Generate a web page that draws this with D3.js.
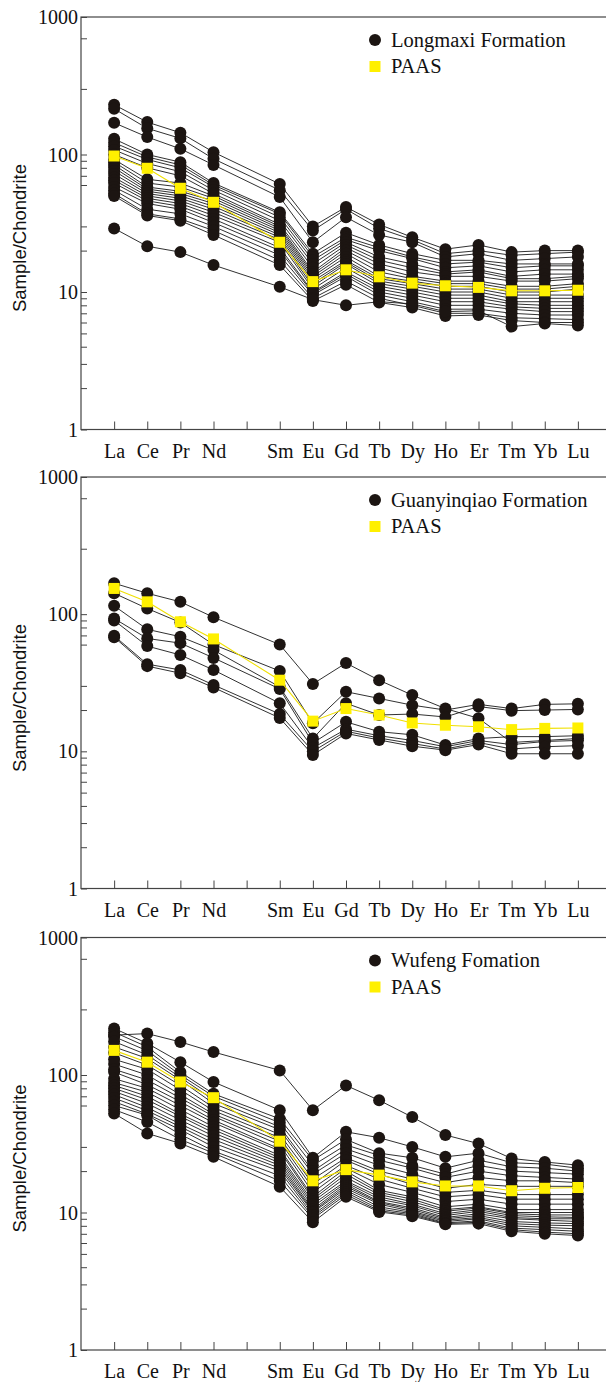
<!DOCTYPE html>
<html>
<head>
<meta charset="utf-8">
<script src="https://cdn.jsdelivr.net/npm/d3@7"></script>
<style>
  html, body { margin: 0; padding: 0; background: #fff; }
  svg { display: block; }
</style>
</head>
<body>
<svg id="chart" width="606" height="1382"></svg>
<script>
// ---------- DATA ----------
const categories = ["La","Ce","Pr","Nd","Pm","Sm","Eu","Gd","Tb","Dy","Ho","Er","Tm","Yb","Lu"];
const elements   = ["La","Ce","Pr","Nd","Sm","Eu","Gd","Tb","Dy","Ho","Er","Tm","Yb","Lu"];
const tickLabels = ["La","Ce","Pr","Nd","","Sm","Eu","Gd","Tb","Dy","Ho","Er","Tm","Yb","Lu"];
const yMajorTicks = [1, 10, 100, 1000];
const yMinorTicks = [2,3,4,5,6,7,8,9, 20,30,60,70,80,90, 300,700];

const legendNames = ["Longmaxi Formation", "Guanyinqiao Formation", "Wufeng Fomation"];
const paasName = "PAAS";

const longmaxiPAAS = [97.5, 79.4, 56.8, 44.9, 23, 11.9, 14.5, 12.9, 11.6, 11.1, 10.8, 10.2, 10.2, 10.3];
const longmaxiSamples = [
  [230, 172, 144, 104, 61, 30, 41.5, 31, 25, 20.5, 22, 19.5, 20, 20],
  [215, 155, 131, 93, 55, 28, 40, 29, 24, 19, 20, 18.5, 19, 19.5],
  [170, 134, 110, 84, 49, 23, 35, 26, 23, 18, 19, 17, 17.5, 18],
  [130, 100, 88, 62, 38, 19, 27, 22, 19, 17, 17, 16, 16, 16],
  [122, 96, 84, 60, 37, 18, 25, 21, 18, 16, 16.5, 15, 15.5, 15.5],
  [115, 92, 80, 58, 35, 17, 24, 20, 17.5, 15, 15.5, 14, 14.5, 14.5],
  [108, 86, 75, 55, 33, 16, 23, 18, 16, 14, 14.5, 13, 13.5, 13.5],
  [100, 80, 70, 52, 31, 15, 22, 17, 15, 13.5, 14, 12.5, 12.5, 13],
  [92, 66, 62, 50, 30, 14, 21, 16, 14, 13, 13, 12, 12, 12.5],
  [88, 62, 58, 48, 29, 13.5, 20, 15, 13, 12, 12, 11, 11, 11.5],
  [84, 58, 54, 46, 28, 13, 19, 14, 12.5, 11.5, 11.5, 10.5, 10.5, 11],
  [80, 56, 52, 44, 27, 12.5, 18, 13, 12, 11, 11, 10, 10, 10.5],
  [76, 54, 50, 42, 26, 12, 17, 12.5, 11.5, 10.5, 10.5, 9.5, 9.5, 9.5],
  [72, 52, 48, 40, 25, 11.5, 16.5, 12, 11, 10, 10, 9, 9, 9],
  [68, 50, 46, 38, 24, 11, 16, 11.5, 10.5, 9.5, 9.5, 8.5, 8.5, 8.5],
  [65, 48, 44, 36, 23, 10.5, 15, 11, 10, 9, 9, 8.2, 8, 8],
  [62, 46, 42, 34, 21, 10, 14, 10.5, 9.5, 8.5, 8.5, 7.8, 7.6, 7.6],
  [58, 44, 40, 32, 20, 9.8, 13.5, 10, 9, 8, 8, 7.5, 7.2, 7.2],
  [55, 40, 37, 30, 18.5, 9.5, 13, 9.5, 8.5, 7.5, 7.5, 7, 6.8, 6.8],
  [52, 37, 34, 28, 17, 9, 12, 9, 8, 7, 7, 6.5, 6.4, 6.3],
  [50, 36, 33, 26, 15.7, 8.6, 11.3, 8.4, 7.7, 6.7, 6.8, 6.2, 6, 6],
  [29, 21.5, 19.5, 15.7, 10.9, 8.8, 8.0, 8.5, 8.2, 7.2, 7.3, 5.6, 5.9, 5.7]
];

const guanyinqiaoPAAS = [154, 123, 88, 66, 33, 16.6, 20.5, 18.4, 16.1, 15.5, 15.1, 14.4, 14.7, 14.8];
const guanyinqiaoSamples = [
  [168, 142, 123, 95, 60, 31, 44, 33, 25.7, 20.5, 17.4, 11.6, 12.0, 12.4],
  [142, 110, 87, 60, 38.5, 16, 27.2, 24.3, 21.7, 20, 22, 20.5, 22, 22.2],
  [115, 77.5, 68.5, 54.7, 29.5, 12.4, 22.4, 18.4, 18.7, 17.8, 21.2, 19.8, 20, 20.2],
  [93, 66.5, 61.5, 48, 28.5, 11.5, 16.4, 13.9, 13.2, 11.1, 12.4, 12.8, 12.8, 13],
  [90, 58.5, 50.4, 39.2, 22.4, 10.6, 14.5, 13, 12, 10.8, 12, 11.2, 11.8, 12],
  [69.5, 43.2, 39.2, 30.5, 18.7, 10, 14, 12.5, 11.4, 10.4, 11.6, 10.4, 10.8, 11],
  [68, 41.8, 37.1, 29.2, 17.5, 9.4, 13.5, 12.1, 10.9, 10.2, 11.2, 9.6, 9.6, 9.6]
];

const wufengPAAS = [151, 124, 89, 68.4, 33, 17, 20.5, 18.7, 16.7, 15.6, 15.6, 14.4, 15, 15.2];
const wufengSamples = [
  [195, 200, 174, 147, 108, 55.5, 84, 65.5, 49.4, 36.6, 31.7, 24.7, 23.3, 22.1],
  [218, 170, 124, 89, 55.5, 25, 38.6, 35, 30, 25.4, 27, 23, 22.5, 21],
  [205, 160, 105, 73, 48, 24, 34, 27, 25, 21, 24, 21.5, 21, 20],
  [190, 150, 100, 70, 45, 22, 31, 26, 22, 19, 22, 20, 19.5, 19],
  [175, 140, 96, 66, 42, 20, 29, 24, 21, 18, 20, 18.5, 18, 17.5],
  [160, 132, 92, 62, 40, 19, 27, 22, 19, 16.5, 18, 17, 17, 16.5],
  [145, 118, 84, 58, 37, 17.5, 25, 20, 17.5, 15, 16, 15.5, 15.5, 15.5],
  [130, 110, 78, 55, 35, 16, 24, 19, 16, 14, 14.5, 13.5, 13.5, 13.5],
  [120, 100, 72, 52, 33, 15, 22, 17.5, 15, 13, 13.5, 12.5, 12.5, 12.5],
  [110, 92, 68, 50, 31, 14, 21, 16, 14, 12, 12.5, 11.5, 11.5, 11.5],
  [105, 85, 64, 47, 29, 13, 20, 14.5, 13, 11, 11.5, 10.5, 10.5, 10.5],
  [94, 80, 60, 45, 28, 12.5, 19, 14, 12.5, 10.5, 11, 10, 10, 10],
  [88, 75, 56, 42, 26, 12, 18, 13.5, 12, 10.2, 10.8, 9.8, 9.6, 9.6],
  [84, 70, 52, 40, 25, 11.5, 17, 13, 11.5, 9.8, 10.5, 9.5, 9.3, 9.2],
  [80, 66, 50, 38, 24, 11, 16.5, 12.5, 11.2, 9.5, 10.2, 9.2, 9, 9],
  [76, 62, 47, 36, 23, 10.5, 16, 12, 10.8, 9.2, 9.8, 9, 8.8, 8.6],
  [72, 58, 44, 34, 22, 10.2, 15.5, 11.8, 10.5, 9, 9.5, 8.6, 8.4, 8.3],
  [68, 55, 42, 32, 21, 10, 15, 11.5, 10.2, 8.8, 9.2, 8.3, 8.1, 8],
  [64, 52, 40, 30, 20, 9.6, 14.5, 11, 10, 8.6, 9, 8, 7.8, 7.6],
  [60, 51, 37, 28, 18.5, 9.3, 14, 10.6, 9.8, 8.4, 8.7, 7.7, 7.5, 7.3],
  [56, 45.5, 34, 27, 17, 9, 13.5, 10.3, 9.6, 8.3, 8.5, 7.5, 7.2, 7],
  [52.5, 37.6, 31.8, 25.4, 15.4, 8.5, 13, 10.1, 9.4, 8.2, 8.3, 7.3, 7, 6.8]
];

// ---------- LAYOUT ----------
const panels = [
  {name: legendNames[0], samples: longmaxiSamples, paas: longmaxiPAAS, top: 17, bottom: 429.5},
  {name: legendNames[1], samples: guanyinqiaoSamples, paas: guanyinqiaoPAAS, top: 477, bottom: 888.5},
  {name: legendNames[2], samples: wufengSamples, paas: wufengPAAS, top: 937.5, bottom: 1350}
];

const svg = d3.select("#chart");
const left = 81, right = 611;
const x = d3.scalePoint().domain(categories).range([left, right]).padding(1);

const SERIF = '"Liberation Serif"';
const SANS = '"Liberation Sans"';
const dotColor = "#1c1512";
const yellow = "#fff000";

panels.forEach(p => {
  const g = svg.append("g");
  const y = d3.scaleLog().domain([1, 1000]).range([p.bottom, p.top]);

  // frame
  g.append("rect")
    .attr("x", left).attr("y", p.top)
    .attr("width", right - left).attr("height", p.bottom - p.top)
    .attr("fill", "none").attr("stroke", "#444").attr("stroke-width", 1.2);

  // y ticks (inward)
  const yAxis = d3.axisLeft(y).tickValues(yMajorTicks).tickSize(-6).tickFormat(d3.format("d")).tickPadding(4);
  const ya = g.append("g").attr("transform", `translate(${left},0)`).call(yAxis);
  ya.select(".domain").remove();
  ya.selectAll("line").attr("stroke", "#444").attr("stroke-width", 1);
  ya.selectAll("text").style("font-family", SERIF).style("font-size", "20px").attr("fill", "#111")
    .attr("x", -3).attr("dy", "0.33em");
  const yMinor = d3.axisLeft(y).tickValues(yMinorTicks).tickSize(-6).tickFormat("");
  const ym = g.append("g").attr("transform", `translate(${left},0)`).call(yMinor);
  ym.select(".domain").remove();
  ym.selectAll("line").attr("stroke", "#444").attr("stroke-width", 1);

  // x ticks (inward)
  const xAxis = d3.axisBottom(x).tickSize(-8).tickFormat((d, i) => tickLabels[i]).tickPadding(14);
  const xa = g.append("g").attr("transform", `translate(0,${p.bottom})`).call(xAxis);
  xa.select(".domain").remove();
  xa.selectAll("line").attr("stroke", "#444").attr("stroke-width", 1);
  xa.selectAll("text").style("font-family", SERIF).style("font-size", "20px").attr("fill", "#111")
    .attr("y", 28).attr("dy", 0);

  // y title
  const cy = p.top + 221;
  g.append("text")
    .attr("transform", `translate(26,${cy}) rotate(-90)`)
    .attr("text-anchor", "middle")
    .style("font-family", SANS).style("font-size", "18.5px").attr("fill", "#111")
    .text("Sample/Chondrite");

  const line = d3.line().x((d, i) => x(elements[i])).y(d => y(d));

  // sample lines
  g.append("g").selectAll("path").data(p.samples).join("path")
    .attr("d", line).attr("fill", "none").attr("stroke", "#1a1a1a").attr("stroke-width", 0.9);
  // sample dots
  p.samples.forEach(s => {
    g.append("g").selectAll("circle").data(s).join("circle")
      .attr("cx", (d, i) => x(elements[i])).attr("cy", d => y(d)).attr("r", 6)
      .attr("fill", dotColor);
  });
  // PAAS
  g.append("path").datum(p.paas).attr("d", line).attr("fill", "none")
    .attr("stroke", "#f0e000").attr("stroke-width", 1.1);
  g.append("g").selectAll("rect").data(p.paas).join("rect")
    .attr("x", (d, i) => x(elements[i]) - 5.5).attr("y", d => y(d) - 5.5)
    .attr("width", 11).attr("height", 11).attr("fill", yellow);

  // legend
  const ly = p.top + 23;
  g.append("circle").attr("cx", 375).attr("cy", ly).attr("r", 6).attr("fill", dotColor);
  g.append("text").attr("x", 391).attr("y", ly + 6.5)
    .style("font-family", SERIF).style("font-size", "20.5px").attr("fill", "#111").text(p.name);
  g.append("rect").attr("x", 369.5).attr("y", ly + 26.5 - 5.5).attr("width", 11).attr("height", 11).attr("fill", yellow);
  g.append("text").attr("x", 391).attr("y", ly + 33)
    .style("font-family", SERIF).style("font-size", "20.5px").attr("fill", "#111").text(paasName);
});
</script>
</body>
</html>
